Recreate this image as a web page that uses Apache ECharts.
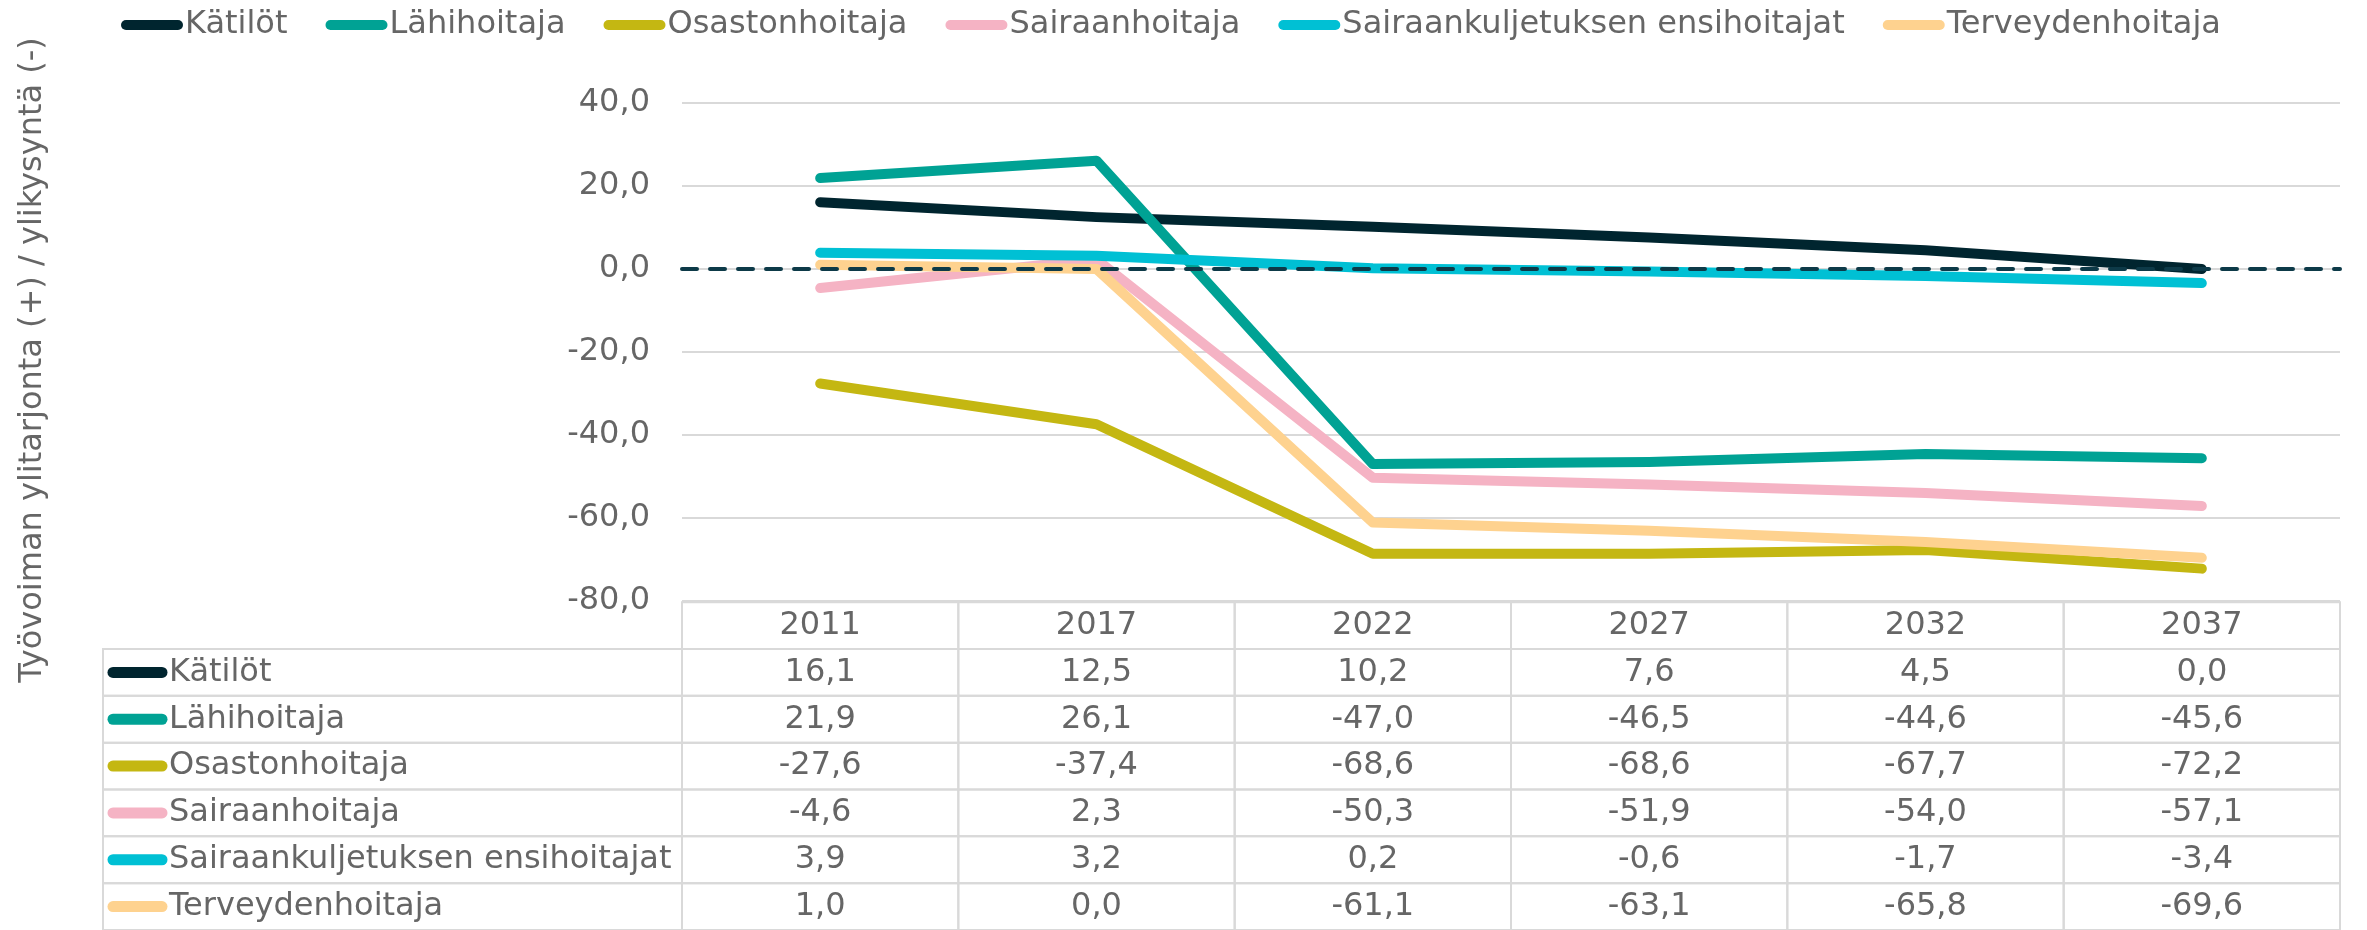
<!DOCTYPE html>
<html>
<head>
<meta charset="utf-8">
<script src="https://cdn.jsdelivr.net/npm/echarts@6/dist/echarts.min.js"></script>
<style>
  html, body { margin: 0; padding: 0; background: #fff; }
  #chart { width: 2367px; height: 930px; }
</style>
</head>
<body>
<div id="chart"></div>
<script>
// vuodet ja ammattiryhmät
var years = ['2011', '2017', '2022', '2027', '2032', '2037'];
var groups = ['Kätilöt', 'Lähihoitaja', 'Osastonhoitaja', 'Sairaanhoitaja', 'Sairaankuljetuksen ensihoitajat', 'Terveydenhoitaja'];
var colors = ['#00252f', '#00a294', '#c4b712', '#f5b3c4', '#00c0d4', '#fed28f'];

// arvot taulukosta
var katilot = [16.1, 12.5, 10.2, 7.6, 4.5, 0.0];
var lahihoitaja = [21.9, 26.1, -47.0, -46.5, -44.6, -45.6];
var osastonhoitaja = [-27.6, -37.4, -68.6, -68.6, -67.7, -72.2];
var sairaanhoitaja = [-4.6, 2.3, -50.3, -51.9, -54.0, -57.1];
var ensihoitajat = [3.9, 3.2, 0.2, -0.6, -1.7, -3.4];
var terveydenhoitaja = [1.0, 0.0, -61.1, -63.1, -65.8, -69.6];
var values = [katilot, lahihoitaja, osastonhoitaja, sairaanhoitaja, ensihoitajat, terveydenhoitaja];

var yTicks = { min: -80, max: 40, interval: 20 };

var font = 'DejaVu Sans, Verdana, sans-serif';
var textColor = '#666666';
var borderColor = '#d9d9d9';
var tableLeft = 103;

function fmt(v) {
    return v.toFixed(1).replace('.', ',');
}

// taulukon solut: [sarake, rivi, arvo]
var tableData = [];
values.forEach(function (row, i) {
    row.forEach(function (v, j) {
        tableData.push([j, i, v]);
    });
});

var series = groups.map(function (name, i) {
    return {
        name: name,
        type: 'line',
        xAxisIndex: 0,
        yAxisIndex: 0,
        data: values[i],
        symbol: 'none',
        lineStyle: { width: 10, cap: 'round', join: 'round', color: colors[i] },
        itemStyle: { color: colors[i] }
    };
});

series.push({
    type: 'custom',
    xAxisIndex: 1,
    yAxisIndex: 1,
    data: tableData,
    silent: true,
    renderItem: function (params, api) {
        var j = api.value(0), i = api.value(1);
        var c = api.coord([j, i]);
        var s = api.size([1, 1]);
        var x0 = c[0] - s[0] / 2, y0 = c[1] - s[1] / 2;
        var cellStyle = { fill: null, stroke: borderColor, lineWidth: 2 };
        var txt = { fontSize: 32, fontFamily: font, fill: textColor, align: 'center', verticalAlign: 'middle' };
        var children = [
            { type: 'rect', shape: { x: x0, y: y0, width: s[0], height: s[1] }, style: cellStyle },
            { type: 'text', style: Object.assign({ text: fmt(api.value(2)), x: c[0], y: c[1] }, txt) }
        ];
        if (i === 0) {
            children.push({ type: 'rect', shape: { x: x0, y: y0 - s[1], width: s[0], height: s[1] }, style: cellStyle });
            children.push({ type: 'text', style: Object.assign({ text: years[j], x: c[0], y: c[1] - s[1] }, txt) });
        }
        if (j === 0) {
            children.push({ type: 'rect', shape: { x: tableLeft, y: y0, width: x0 - tableLeft, height: s[1] }, style: cellStyle });
            children.push({ type: 'line', shape: { x1: tableLeft + 10, y1: c[1], x2: tableLeft + 59, y2: c[1] },
                style: { stroke: colors[i], lineWidth: 11, lineCap: 'round' } });
            children.push({ type: 'text', style: Object.assign({}, txt, { text: groups[i], x: tableLeft + 66, y: c[1], align: 'left' }) });
        }
        return { type: 'group', children: children };
    }
});

var chart = echarts.init(document.getElementById('chart'));
chart.setOption({
    animation: false,
    color: colors,
    textStyle: { fontFamily: font },
    legend: {
        top: 4,
        left: 116,
        itemWidth: 62,
        itemHeight: 10,
        itemGap: 38,
        icon: 'path://M5,0 L57,0 A5,5 0 0 1 57,10 L5,10 A5,5 0 0 1 5,0 Z',
        textStyle: { fontSize: 32, color: textColor, fontFamily: font, padding: [0, 0, 0, -3] },
        data: groups
    },
    grid: [
        { left: 682, right: 27, top: 103, height: 498 },
        { left: 682, right: 27, top: 649, height: 286 }
    ],
    xAxis: [
        {
            type: 'category',
            gridIndex: 0,
            data: years,
            boundaryGap: true,
            z: 10,
            axisLine: { show: true, onZero: true, lineStyle: { color: '#0d3a48', width: 4, type: [15, 13] } },
            axisTick: { show: false },
            axisLabel: { show: false },
            splitLine: { show: false }
        },
        {
            type: 'category',
            gridIndex: 1,
            data: years,
            show: false
        }
    ],
    yAxis: [
        {
            type: 'value',
            gridIndex: 0,
            min: yTicks.min,
            max: yTicks.max,
            interval: yTicks.interval,
            axisLine: { show: false },
            axisTick: { show: false },
            axisLabel: { fontSize: 32, color: textColor, margin: 32, formatter: fmt },
            splitLine: { lineStyle: { color: borderColor, width: 2 } }
        },
        {
            type: 'category',
            gridIndex: 1,
            data: groups,
            inverse: true,
            show: false
        }
    ],
    graphic: [{
        type: 'text',
        x: 33,
        y: 360,
        rotation: Math.PI / 2,
        style: {
            text: 'Työvoiman ylitarjonta (+) / ylikysyntä (-)',
            fontSize: 32,
            fontFamily: font,
            fill: textColor,
            align: 'center',
            verticalAlign: 'middle'
        }
    }],
    series: series
});
</script>
</body>
</html>
